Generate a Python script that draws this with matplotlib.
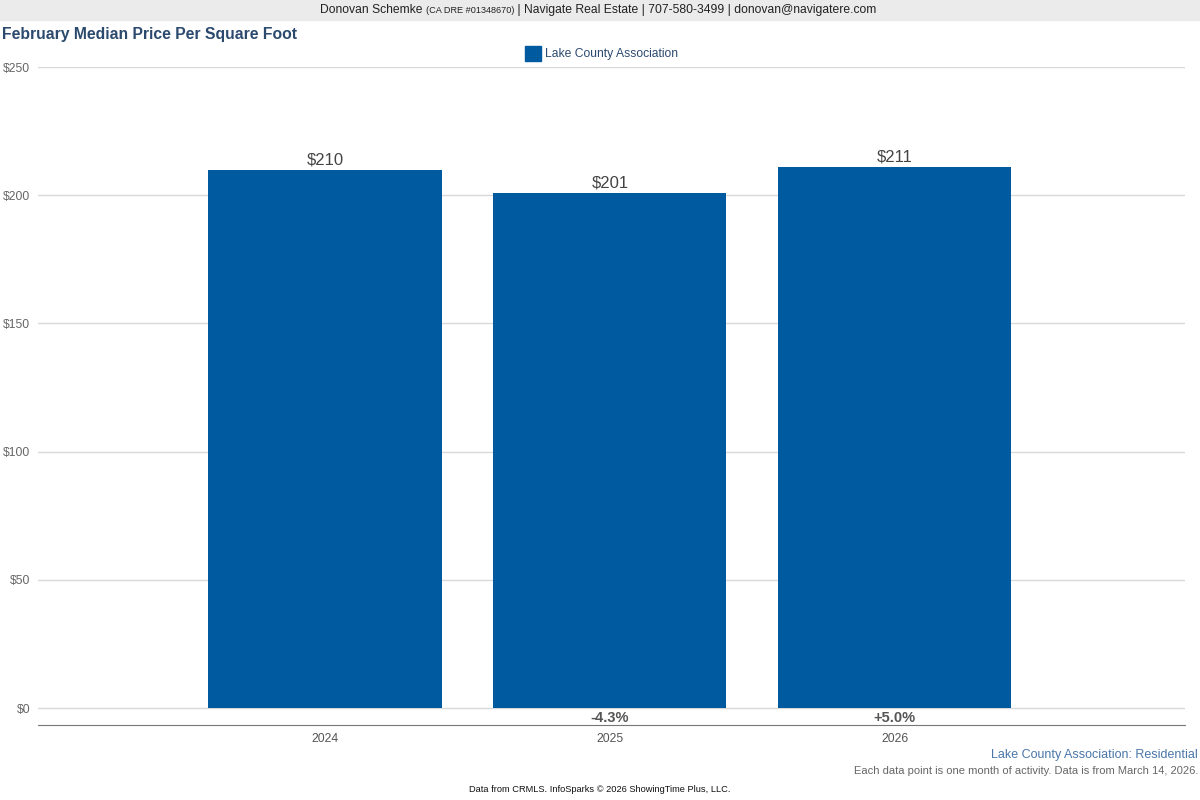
import matplotlib.pyplot as plt
from matplotlib.patches import Rectangle

plt.rcParams['font.family'] = ['Liberation Sans', 'DejaVu Sans']

# Data
years = ['2024', '2025', '2026']
price_sqft = [210, 201, 211]
changes = ['', '-4.3%', '+5.0%']
y_ticks = [0, 50, 100, 150, 200, 250]
y_labels = ['$0', '$50', '$100', '$150', '$200', '$250']

bar_color = '#005aa0'
title_color = '#2c4a6e'

fig = plt.figure(figsize=(12, 8), dpi=100)
ax = fig.add_axes([38 / 1200, 1 - 725 / 800, (1185 - 38) / 1200, (725 - 67) / 800])

x = range(len(years))
ax.bar(x, price_sqft, width=0.818, color=bar_color, zorder=3)

for i, v in enumerate(price_sqft):
    ax.annotate('$%d' % v, (i, v), xytext=(0, 1.5), textcoords='offset points',
                ha='center', va='bottom', fontsize=12, color='#444444')
    if changes[i]:
        ax.text(i, -3.9, changes[i], ha='center', va='center', fontsize=10.5,
                fontweight='bold', color='#555555')

ax.set_xlim(-1.007, 3.018)
ax.set_ylim(-6.6, 250)
ax.set_yticks(y_ticks)
ax.set_yticklabels(y_labels)
ax.set_xticks(list(x))
ax.set_xticklabels(years)
ax.grid(axis='y', color='#d9d9d9', linewidth=1, zorder=0)
ax.tick_params(axis='y', length=0, pad=5.5, labelsize=8.7, labelcolor='#666666')
ax.tick_params(axis='x', length=0, pad=6, labelsize=8.8, labelcolor='#555555')
for s in ['top', 'right', 'left']:
    ax.spines[s].set_visible(False)
ax.spines['bottom'].set_color('#777777')

# Header band
fig.patches.append(Rectangle((0, 1 - 20 / 800), 1, 20 / 800, transform=fig.transFigure,
                             color='#ebebeb', zorder=0))
t1 = fig.text(320 / 1200, 1 - 10 / 800, 'Donovan Schemke ', ha='left', va='center',
              fontsize=8.7, color='#222222')
t2 = fig.text(0, 0, '(CA DRE #01348670)', fontsize=6.6, color='#222222')
t2.set_transform(fig.transFigure)
fig.canvas.draw()
bb = t1.get_window_extent()
t2.set_position((bb.x1 / 1200, 1 - 10.5 / 800))
t2.set_va('center')
fig.canvas.draw()
bb2 = t2.get_window_extent()
fig.text(bb2.x1 / 1200, 1 - 10 / 800,
         ' | Navigate Real Estate | 707-580-3499 | donovan@navigatere.com',
         ha='left', va='center', fontsize=8.7, color='#222222')

fig.text(2 / 1200, 1 - 35 / 800, 'February Median Price Per Square Foot', ha='left',
         va='center', fontsize=11.35, fontweight='bold', color=title_color)

# Legend
fig.patches.append(Rectangle((525 / 1200, 1 - 61 / 800), 16 / 1200, 15 / 800,
                             transform=fig.transFigure, color=bar_color))
fig.text(545 / 1200, 1 - 53.5 / 800, 'Lake County Association', ha='left', va='center',
         fontsize=8.75, color=title_color)

# Footer
fig.text(1198 / 1200, 1 - 755 / 800, 'Lake County Association: Residential', ha='right',
         va='center', fontsize=9, color='#4a76a8')
fig.text(1198 / 1200, 1 - 771 / 800,
         'Each data point is one month of activity. Data is from March 14, 2026.',
         ha='right', va='center', fontsize=8, color='#666666')
fig.text(600 / 1200, 1 - 789 / 800, 'Data from CRMLS. InfoSparks \u00a9 2026 ShowingTime Plus, LLC.',
         ha='center', va='center', fontsize=6.7, color='#111111')

fig.savefig('out.png', dpi=100)
